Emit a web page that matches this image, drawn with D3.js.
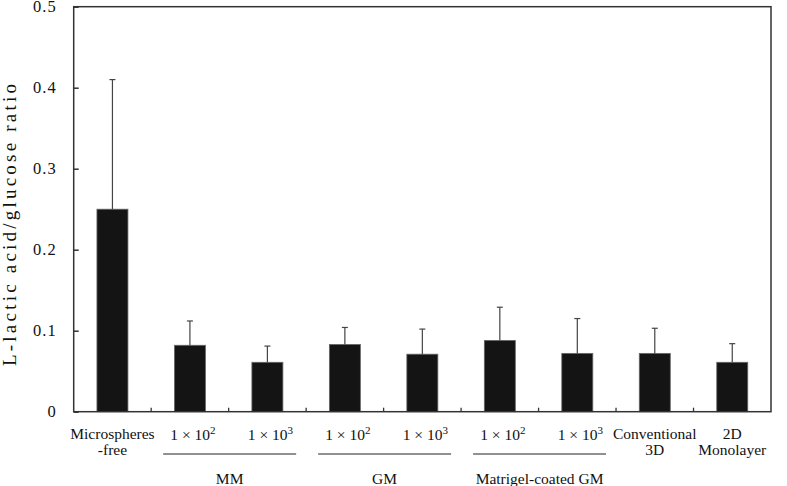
<!DOCTYPE html>
<html><head><meta charset="utf-8">
<script src="https://cdn.jsdelivr.net/npm/d3@7"></script>
<style>body{margin:0;background:#fff}svg{display:block}text{font-family:"Liberation Serif","Times New Roman",serif;fill:#111}</style>
</head><body><svg id="c" width="787" height="486"></svg>
<script>
// ---- data ----
const categories = ["Microspheres-free","MM 1e2","MM 1e3","GM 1e2","GM 1e3","Matrigel 1e2","Matrigel 1e3","Conventional 3D","2D Monolayer"];
const labelLines = [["Microspheres","-free"],["1e2"],["1e3"],["1e2"],["1e3"],["1e2"],["1e3"],["Conventional","3D"],["2D","Monolayer"]];
const means = [0.25, 0.082, 0.061, 0.083, 0.071, 0.088, 0.072, 0.072, 0.061];
const errTops = [0.41, 0.112, 0.081, 0.104, 0.102, 0.129, 0.115, 0.103, 0.084];
const yTicks = [0, 0.1, 0.2, 0.3, 0.4, 0.5];
const groups = [{name:"MM", from:1, to:2},{name:"GM", from:3, to:4},{name:"Matrigel-coated GM", from:5, to:6}];
const yLabel = "L-lactic acid/glucose ratio";

// ---- layout ----
const svg = d3.select("#c");
const L = 73.7, R = 771, T = 6.7, B = 411.7;
const x = d3.scaleBand().domain(d3.range(categories.length)).range([L, R]).paddingInner(0.6).paddingOuter(0.3);
const y = d3.scaleLinear().domain([0, 0.5]).range([B, T]);
const step = x.step();

// bars
svg.append("g").selectAll("rect").data(means).join("rect")
  .attr("x", (d,i)=>x(i)).attr("y", d=>y(d))
  .attr("width", x.bandwidth()).attr("height", d=>B - y(d))
  .attr("fill", "#141414").attr("stroke", "#666").attr("stroke-width", 0.8);

// error bars
const eg = svg.append("g").attr("stroke", "#444").attr("stroke-width", 1.2);
means.forEach((m,i)=>{
  const cx = x(i) + x.bandwidth()/2;
  eg.append("line").attr("x1", cx).attr("x2", cx).attr("y1", y(m)).attr("y2", y(errTops[i]));
  eg.append("line").attr("x1", cx-3).attr("x2", cx+3).attr("y1", y(errTops[i])).attr("y2", y(errTops[i]));
});

// frame
svg.append("rect").attr("x", L).attr("y", T).attr("width", R-L).attr("height", B-T)
  .attr("fill", "none").attr("stroke", "#333").attr("stroke-width", 1.5);

// y axis
const yAxis = d3.axisLeft(y).tickValues(yTicks).tickSize(-5).tickPadding(17)
  .tickFormat(d => d === 0 ? "0" : d.toFixed(1));
const ya = svg.append("g").attr("transform", `translate(${L},0)`).call(yAxis);
ya.select(".domain").remove();
ya.selectAll("line").attr("stroke", "#333").attr("stroke-width", 1.5);
ya.selectAll("text").attr("font-size", "16.5px").attr("letter-spacing", "1px").attr("fill", "#111")
  .attr("font-family", '"Liberation Serif",serif');

// x separator ticks
const sep = d3.range(1, categories.length).map(k => L + k*step);
svg.append("g").selectAll("line").data(sep).join("line")
  .attr("x1", d=>d).attr("x2", d=>d).attr("y1", B).attr("y2", B-4)
  .attr("stroke", "#333").attr("stroke-width", 1.3);

// category labels
const lg = svg.append("g").attr("font-size", "15.5px").attr("text-anchor", "middle");
labelLines.forEach((lines,i)=>{
  const cx = x(i) + x.bandwidth()/2;
  lines.forEach((s,j)=>{
    const t = lg.append("text").attr("x", cx).attr("y", 439 + j*16);
    if (s === "1e2" || s === "1e3") {
      t.attr("y", 440).attr("x", cx + 3);
      t.append("tspan").text("1 × 10");
      t.append("tspan").attr("dy", -6).attr("font-size", "11px").text(s.slice(2));
    } else t.text(s);
  });
});

// group lines & labels
groups.forEach(g=>{
  const x1 = x(g.from) - step*0.5 + x.bandwidth()/2 + 12;
  const x2 = x(g.to) + x.bandwidth()/2 + step*0.5 - 10;
  svg.append("line").attr("x1", x1).attr("x2", x2).attr("y1", 454).attr("y2", 454)
    .attr("stroke", "#222").attr("stroke-width", 1.2);
  svg.append("text").attr("x", (x1+x2)/2).attr("y", 484).attr("text-anchor", "middle")
    .attr("font-size", "15.5px").text(g.name);
});

// y label
svg.append("text").attr("transform", `translate(15.5,225) rotate(-90)`)
  .attr("text-anchor", "middle").attr("font-size", "19px")
  .attr("textLength", 282).attr("lengthAdjust", "spacing").text(yLabel);
</script></body></html>
